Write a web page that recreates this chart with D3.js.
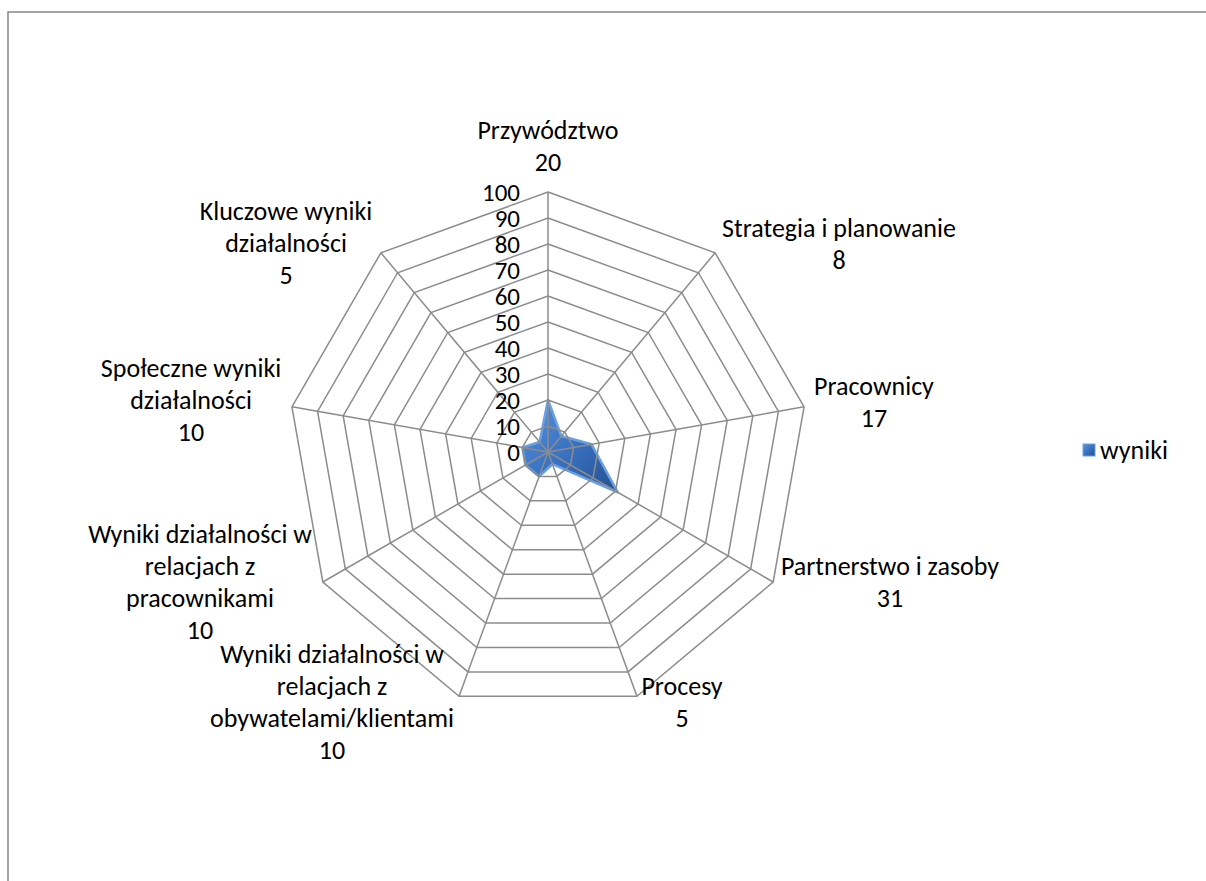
<!DOCTYPE html>
<html>
<head>
<meta charset="utf-8">
<script src="https://cdn.jsdelivr.net/npm/d3@7"></script>
<style>
  body { margin: 0; background: #fff; }
  svg text { font-family: Carlito, Calibri, Lato, sans-serif; fill: #000; }
</style>
</head>
<body>
<svg id="chart" width="1206" height="881"></svg>
<script>
// data
const categories = [
    ["Przywództwo"],
    ["Strategia i planowanie"],
    ["Pracownicy"],
    ["Partnerstwo i zasoby"],
    ["Procesy"],
    ["Wyniki działalności w", "relacjach z", "obywatelami/klientami"],
    ["Wyniki działalności w", "relacjach z", "pracownikami"],
    ["Społeczne wyniki", "działalności"],
    ["Kluczowe wyniki", "działalności"]
];
const values = [20, 8, 17, 31, 5, 10, 10, 10, 5];
const seriesName = "wyniki";
const ticks = [0, 10, 20, 30, 40, 50, 60, 70, 80, 90, 100];

// label anchor points (centre of text block, first baseline)
const labelPos = [
    [548, 139], [839, 237], [874, 395], [890, 575], [682, 695],
    [332, 663], [200, 543], [191, 377], [286, 220]
];

const svg = d3.select("#chart");
const cx = 548, cy = 452, R = 260;
const fontSize = 26, tickFont = 25, lineH = 32;

const defs = svg.append("defs");
const grad = defs.append("linearGradient")
    .attr("id", "fillgrad")
    .attr("x1", "0%").attr("y1", "0%")
    .attr("x2", "100%").attr("y2", "100%");
grad.append("stop").attr("offset", "0%").style("stop-color", "#5b93dc");
grad.append("stop").attr("offset", "50%").style("stop-color", "#3a72c3");
grad.append("stop").attr("offset", "100%").style("stop-color", "#24508f");

// outer frame
svg.append("rect")
    .attr("x", 8).attr("y", 12)
    .attr("width", 1220).attr("height", 900)
    .attr("fill", "none")
    .attr("stroke", "#868686")
    .attr("stroke-width", 1.5);

const r = d3.scaleLinear().domain([0, 100]).range([0, R]);
const angle = d3.scaleLinear().domain([0, categories.length]).range([0, 2 * Math.PI]);

function pt(i, v) {
    const a = angle(i);
    return [cx + r(v) * Math.sin(a), cy - r(v) * Math.cos(a)];
}

// series polygon
const line = d3.line().curve(d3.curveLinearClosed);
const seriesPts = values.map((v, i) => pt(i, v));

svg.append("path")
    .attr("d", line(seriesPts))
    .attr("fill", "url(#fillgrad)")
    .attr("stroke", "#6a9fe2")
    .attr("stroke-width", 2.5)
    .attr("stroke-linejoin", "round");

// grid rings
const grid = svg.append("g")
    .attr("fill", "none")
    .attr("stroke", "#8c8c8c")
    .attr("stroke-width", 1.5);

grid.selectAll("path.ring")
    .data(ticks.filter(t => t > 0))
    .join("path")
    .attr("class", "ring")
    .attr("d", t => line(categories.map((c, i) => pt(i, t))));

grid.selectAll("line.spoke")
    .data(categories)
    .join("line")
    .attr("class", "spoke")
    .attr("x1", cx).attr("y1", cy)
    .attr("x2", (d, i) => pt(i, 100)[0])
    .attr("y2", (d, i) => pt(i, 100)[1]);

// tick labels
svg.append("g")
    .selectAll("text")
    .data(ticks)
    .join("text")
    .attr("x", cx - 28)
    .attr("y", t => cy - r(t))
    .attr("dy", "0.35em")
    .attr("text-anchor", "end")
    .attr("font-size", tickFont)
    .text(t => t);

// category labels with values
const labels = svg.append("g")
    .selectAll("text")
    .data(categories)
    .join("text")
    .attr("text-anchor", "middle")
    .attr("font-size", fontSize);

labels.each(function (d, i) {
    const t = d3.select(this);
    const rows = d.concat([String(values[i])]);
    rows.forEach((s, k) => {
        t.append("tspan")
            .attr("x", labelPos[i][0])
            .attr("y", labelPos[i][1] + k * lineH)
            .text(s);
    });
});

// legend
const legend = svg.append("g").attr("transform", "translate(1083,444)");
legend.append("rect")
    .attr("width", 12).attr("height", 12)
    .attr("fill", "url(#fillgrad)")
    .attr("stroke", "#6a9fe2")
    .attr("stroke-width", 1);
legend.append("text")
    .attr("x", 17).attr("y", 6)
    .attr("dy", "0.35em")
    .attr("font-size", fontSize)
    .text(seriesName);
</script>
</body>
</html>
